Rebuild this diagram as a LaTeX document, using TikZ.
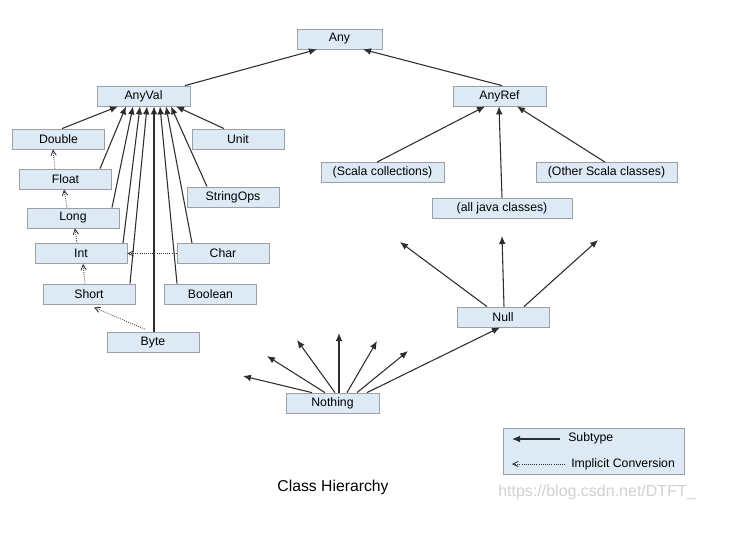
\documentclass[tikz,border=0pt]{standalone}
\usepackage{fontspec}
\setmainfont{Liberation Sans}
\usetikzlibrary{arrows.meta,calc}
\definecolor{boxfill}{RGB}{221,234,246}
\definecolor{boxline}{RGB}{155,160,165}
\definecolor{lineclr}{RGB}{45,45,45}
\begin{document}
\begin{tikzpicture}[x=0.75pt,y=-0.75pt,
  cls/.style={draw=boxline,fill=boxfill,line width=0.6pt,minimum height=15pt,inner sep=0pt,minimum width=69pt,font=\fontsize{9.2}{10}\selectfont},
  sub/.style={draw=lineclr,line width=0.8pt,-{Latex[length=6pt,width=5pt]}},
  conv/.style={draw=lineclr,line width=0.6pt,densely dotted,-{Straight Barb[open,length=4pt,width=4pt]}}]
\useasboundingbox[fill=white] (0,0) rectangle (753,544);
% nodes
\node[cls,minimum width=63.75pt] (Any) at (339.5,39) {Any};
\node[cls,minimum width=69.75pt] (AnyVal) at (143.5,96) {AnyVal};
\node[cls,minimum width=69.75pt] (AnyRef) at (499.5,96) {AnyRef};
\node[cls] (Double) at (58.5,139) {Double};
\node[cls] (Unit) at (238,139) {Unit};
\node[cls] (Float) at (65.5,179) {Float};
\node[cls] (StringOps) at (233,197) {StringOps};
\node[cls] (Long) at (73,218) {Long};
\node[cls] (Int) at (81,253.5) {Int};
\node[cls] (Char) at (223,253.5) {Char};
\node[cls] (Short) at (89,294) {Short};
\node[cls] (Boolean) at (210.5,294) {Boolean};
\node[cls] (Byte) at (153,342.5) {Byte};
\node[cls,minimum width=92.25pt] (Coll) at (382.5,172.5) {(Scala collections)};
\node[cls,minimum width=105.75pt] (Other) at (606.5,172.5) {(Other Scala classes)};
\node[cls,minimum width=105pt] (Java) at (502,208) {(all java classes)};
\node[cls] (Null) at (503,317) {Null};
\node[cls,minimum width=69.75pt] (Nothing) at (332.5,403) {Nothing};
% top level
\draw[sub] (AnyVal.north -| 185,0) -- (Any.south -| 317,0);
\draw[sub] (AnyRef.north -| 502,0) -- (Any.south -| 363,0);
% AnyRef children
\draw[sub] (Coll.north -| 377,0) -- (AnyRef.south -| 485,0);
\draw[sub] (Java.north -| 502,0) -- (AnyRef.south -| 499,0);
\draw[sub] (Other.north -| 605,0) -- (AnyRef.south -| 517,0);
% AnyVal children
\draw[sub] (Double.north -| 62,0) -- (AnyVal.south -| 118,0);
\draw[sub] (Float.north -| 100,0) -- (AnyVal.south -| 126,0);
\draw[sub] (Long.north -| 112,0) -- (AnyVal.south -| 133,0);
\draw[sub] (Int.north -| 123,0) -- (AnyVal.south -| 140,0);
\draw[sub] (Short.north -| 130,0) -- (AnyVal.south -| 147,0);
\draw[sub] (Byte.north -| 154,0) -- (AnyVal.south -| 154,0);
\draw[sub] (Boolean.north -| 177,0) -- (AnyVal.south -| 160,0);
\draw[sub] (Char.north -| 192,0) -- (AnyVal.south -| 166,0);
\draw[sub] (StringOps.north -| 207,0) -- (AnyVal.south -| 171,0);
\draw[sub] (Unit.north -| 224,0) -- (AnyVal.south -| 176,0);
% implicit conversions
\draw[conv] (Float.north -| 55,0) -- (Double.south -| 53,0);
\draw[conv] (Long.north -| 67,0) -- (Float.south -| 64,0);
\draw[conv] (Int.north -| 77,0) -- (Long.south -| 75,0);
\draw[conv] (Short.north -| 85,0) -- (Int.south -| 83,0);
\draw[conv] ($(Byte.north west)+(38,-3)$) -- ($(Short.south)+(5,3)$);
\draw[conv] (Char.west) -- (Int.east);
% Null
\coordinate (n1) at (400,242);
\coordinate (n2) at (502,236);
\coordinate (n3) at (598,240);
\draw[sub] (Null.north -| 487,0) -- (n1);
\draw[sub] (Null.north -| 504,0) -- (n2);
\draw[sub] (Null.north -| 524,0) -- (n3);
% Nothing
\coordinate (t1) at (243,376);
\coordinate (t2) at (267,356);
\coordinate (t3) at (297,340);
\coordinate (t4) at (339,333);
\coordinate (t5) at (377,341);
\coordinate (t6) at (408,351);
\draw[sub] (Nothing.north -| 312,0) -- (t1);
\draw[sub] (Nothing.north -| 325,0) -- (t2);
\draw[sub] (Nothing.north -| 335,0) -- (t3);
\draw[sub] (Nothing.north -| 339,0) -- (t4);
\draw[sub] (Nothing.north -| 347,0) -- (t5);
\draw[sub] (Nothing.north -| 357,0) -- (t6);
\draw[sub] (Nothing.north -| 367,0) -- (Null.south -| 500,0);
% legend
\node[draw=boxline,fill=boxfill,line width=0.6pt,minimum width=135.75pt,minimum height=34.5pt,inner sep=0pt] (legend) at (593.5,451) {};
\coordinate (l1a) at (560,439);
\coordinate (l1b) at (512,439);
\coordinate (l2a) at (565,464);
\coordinate (l2b) at (512,464);
\draw[sub] (l1a) -- (l1b);
\draw[conv] (l2a) -- (l2b);
\node[anchor=west,inner sep=0pt,font=\fontsize{9.2}{10}\selectfont] (lt1) at (568,438) {Subtype};
\node[anchor=west,inner sep=0pt,font=\fontsize{9.2}{10}\selectfont] (lt2) at (571,464) {Implicit Conversion};
% caption
\node[font=\fontsize{11.8}{13}\selectfont] (title) at (333,487) {Class Hierarchy};
\node[anchor=west,inner sep=0pt,text=black!18,font=\fontsize{12}{13}\selectfont] (wm) at (498,492) {https://blog.csdn.net/DTFT\_};
\end{tikzpicture}
\end{document}
